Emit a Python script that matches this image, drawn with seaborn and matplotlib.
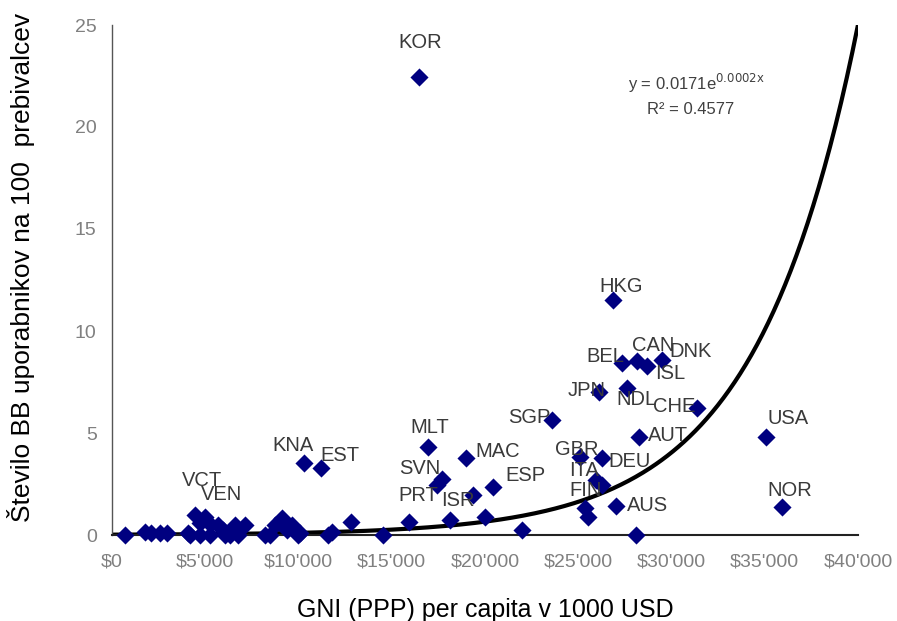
import numpy as np
import pandas as pd
import matplotlib
matplotlib.use("Agg")
import matplotlib.pyplot as plt
import seaborn as sns

# ---------------- data ----------------
labels = ["KOR", "HKG", "BEL", "CAN", "ISL", "DNK", "JPN", "NDL", "CHE", "SGP",
          "AUT", "USA", "NOR", "GBR", "DEU", "ITA", "FIN", "AUS", "ESP", "MAC",
          "MLT", "SVN", "PRT", "ISR", "KNA", "EST", "VCT", "VEN"]
gni_lab = [16460, 26860, 27350, 28150, 28690, 29490, 26110, 27610, 31370, 23590,
           28260, 35070, 35920, 25090, 26270, 25950, 26270, 27020, 20430, 18980,
           16940, 17690, 17430, 19360, 10290, 11210, 4450, 4990]
bb_lab = [22.45, 11.52, 8.43, 8.53, 8.28, 8.58, 7.01, 7.21, 6.23, 5.64,
          4.80, 4.80, 1.37, 3.82, 3.77, 2.70, 2.45, 1.42, 2.35, 3.77,
          4.31, 2.75, 2.45, 1.96, 3.53, 3.28, 0.98, 0.88]

gni_other = [25360, 25520, 28100, 21980, 20000, 18120, 15920, 12820, 14530, 11800,
             700, 1770, 2100, 2600, 2950, 4070, 4720, 5250, 5680, 5950,
             4180, 4720, 5250, 6060, 6600, 7130, 6760, 6330, 8200, 8740,
             9120, 9650, 10080, 9970, 8470, 9380, 11580]
bb_other = [1.32, 0.88, 0.0, 0.25, 0.88, 0.74, 0.64, 0.64, 0.0, 0.15,
            0.0, 0.15, 0.10, 0.10, 0.10, 0.10, 0.57, 0.54, 0.49, 0.25,
            0.0, 0.0, 0.0, 0.0, 0.49, 0.49, 0.0, 0.0, 0.0, 0.50,
            0.83, 0.49, 0.10, 0.0, 0.0, 0.25, 0.0]

fit_a = 0.0171
fit_b = 0.0001822
equation_text = "y = 0.0171e$^{\\mathrm{0.0002x}}$"
r2_text = "R² = 0.4577"

xticks = [0, 5000, 10000, 15000, 20000, 25000, 30000, 35000, 40000]
xtick_labels = ["\\$0", "\\$5'000", "\\$10'000", "\\$15'000", "\\$20'000",
                "\\$25'000", "\\$30'000", "\\$35'000", "\\$40'000"]
yticks = [0, 5, 10, 15, 20, 25]

xlabel = "GNI (PPP) per capita v 1000 USD"
ylabel = "Število BB uporabnikov na 100  prebivalcev"

# label offsets in pixels (dx, dy), style only
label_offsets = {
    "KOR": (1, 35), "HKG": (8, 13), "BEL": (-17, 7), "CAN": (16, 15),
    "ISL": (23, -7), "DNK": (29, 8), "JPN": (-12, 1), "NDL": (10, -12),
    "CHE": (-23, 1), "SGP": (-23, 2), "AUT": (29, 2), "USA": (22, 19),
    "NOR": (8, 17), "GBR": (-3, 8), "DEU": (28, -3), "ITA": (-12, 9),
    "FIN": (-16, -5), "AUS": (32, 1), "ESP": (32, 12), "MAC": (32, 7),
    "MLT": (2, 20), "SVN": (-22, 10), "PRT": (-19, -10), "ISR": (-15, -5),
    "KNA": (-11, 17), "EST": (19, 13), "VCT": (7, 35), "VEN": (16, 23),
}

# ---------------- plotting ----------------
sns.set_theme(style="white")
plt.rcParams["font.family"] = ["Liberation Sans", "DejaVu Sans"]

df = pd.DataFrame({
    "gni": gni_other + gni_lab,
    "bb": bb_other + bb_lab,
})

fig = plt.figure(figsize=(8.97, 6.21), dpi=100)
ax = fig.add_axes([112 / 897, 86 / 621, (858 - 112) / 897, (535 - 25) / 621])

navy = "#000080"
xs = np.linspace(0, 40000, 400)
trend = pd.DataFrame({"x": xs, "y": fit_a * np.exp(fit_b * xs)})
sns.lineplot(data=trend, x="x", y="y", ax=ax, color="black", linewidth=3,
             zorder=2)

sns.scatterplot(data=df, x="gni", y="bb", ax=ax, marker="D", s=85,
                color=navy, edgecolor=navy, linewidth=0, zorder=3,
                clip_on=False)

for lab, gx, gy in zip(labels, gni_lab, bb_lab):
    dx, dy = label_offsets[lab]
    ax.annotate(lab, (gx, gy), xytext=(dx, dy), textcoords="offset pixels",
                ha="center", va="center", fontsize=14.5, color="#3a3a3a",
                zorder=4)

ax.text(0.784, 0.885, equation_text, transform=ax.transAxes, ha="center",
        va="center", fontsize=12, color="#404040")
ax.text(0.776, 0.835, r2_text, transform=ax.transAxes, ha="center",
        va="center", fontsize=12, color="#404040")

ax.set_xlim(0, 40000)
ax.set_ylim(0, 25)
ax.set_xticks(xticks)
ax.set_xticklabels(xtick_labels)
ax.set_yticks(yticks)
ax.tick_params(axis="both", direction="out", length=5, width=1,
               color="#555555", labelcolor="#808080", labelsize=14, pad=6)
ax.tick_params(axis="x", pad=8)

for side in ["top", "right"]:
    ax.spines[side].set_visible(False)
ax.spines["left"].set_color("#555555")
ax.spines["left"].set_linewidth(1)
ax.spines["bottom"].set_color("#222222")
ax.spines["bottom"].set_linewidth(1.5)

ax.set_xlabel(xlabel, fontsize=18, color="black", labelpad=20)
ax.set_ylabel(ylabel, fontsize=19, color="black")
ax.yaxis.set_label_coords(-0.103, 0.525)

fig.savefig("out.png", dpi=100)
